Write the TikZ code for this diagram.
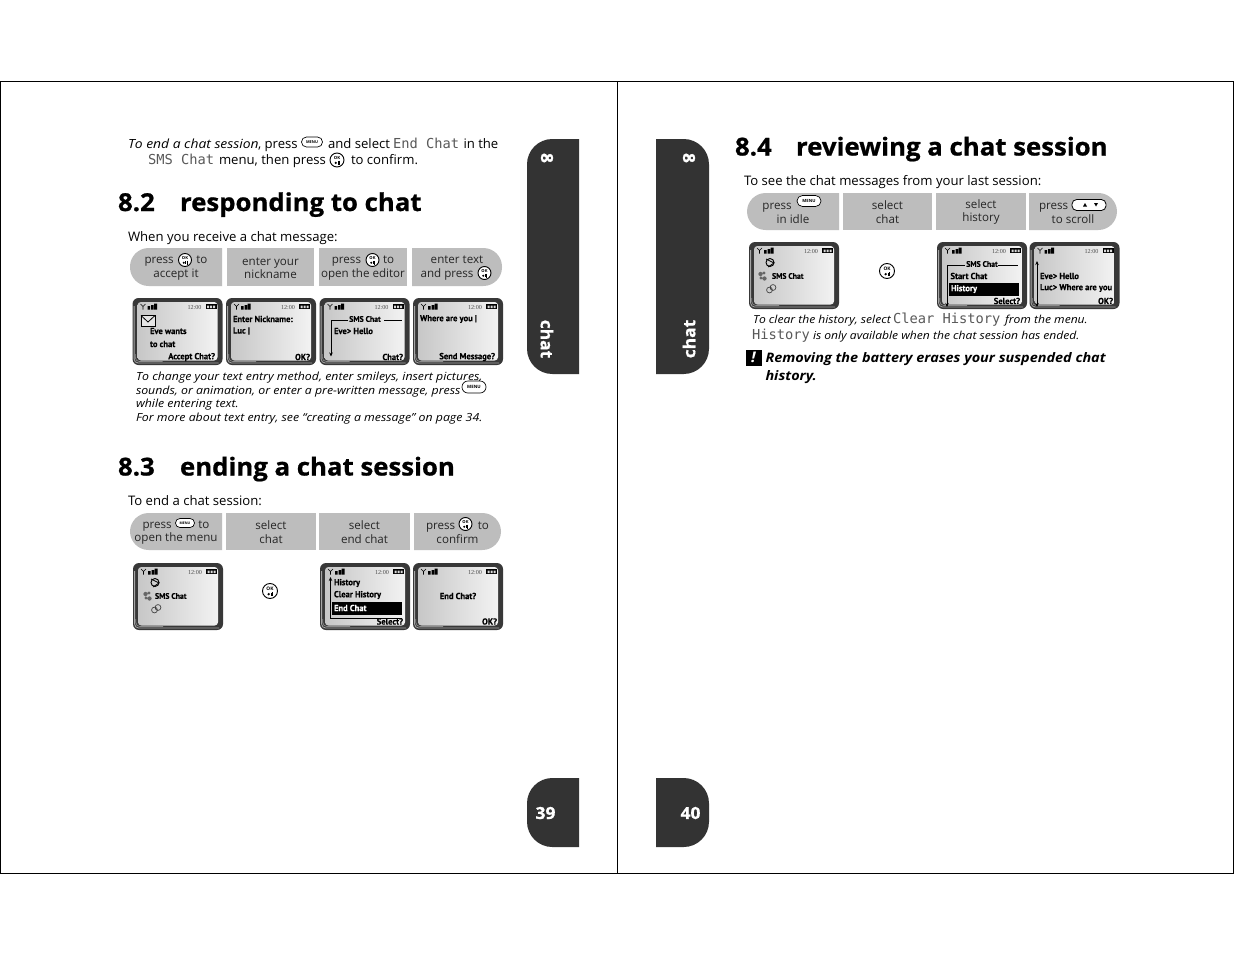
\documentclass[tikz,border=0pt]{standalone}
\usepackage{fontspec}
\setmainfont{Open Sans}[ItalicFeatures={FakeStretch=1.1},BoldItalicFeatures={FakeStretch=1.1}]
\newfontfamily\hdf{Open Sans}[BoldFeatures={FakeBold=0.8,FakeStretch=1.045}]
\newfontfamily\lcdf{PT Sans}[BoldFeatures={FakeStretch=0.97,FakeBold=0.3}]
\newfontfamily\monof{DejaVu Sans Mono}
\newfontfamily\serf{Liberation Serif}
\usetikzlibrary{arrows.meta}
\definecolor{pill}{HTML}{BDBDBD}
\definecolor{tab}{HTML}{333333}
\newcounter{tn}
\tikzset{
  txt/.style={anchor=base west,inner sep=0pt,outer sep=0pt,text=black,font=\fontsize{9.85}{10}\selectfont},
  ital/.style={txt,font=\fontsize{8.4}{10}\selectfont\itshape},
  itc/.style={txt,font=\fontsize{8.25}{10}\selectfont\itshape},
  mono/.style={txt,text=black!65,font=\fontsize{10.3}{10}\monof},
  head/.style={txt,font=\fontsize{18.5}{20}\hdf\bfseries},
  warn/.style={txt,font=\fontsize{9.85}{10}\selectfont\bfseries\itshape},
  lcd/.style={anchor=west,inner sep=0pt,outer sep=0pt,text=black,font=\fontsize{6.6}{7}\lcdf\bfseries},
  lcdn/.style={lcd,font=\fontsize{6}{7}\lcdf\bfseries},
  tabt/.style={inner sep=0pt,outer sep=0pt,text=white,font=\fontsize{12.5}{13}\hdf\bfseries},
  seg/.style={inner sep=0pt,outer sep=0pt,align=center,text=black!85,font=\fontsize{8.7}{10.1}\selectfont},
  segf/.style={seg,fill=pill},
  ico/.style={inner sep=0pt,outer sep=0pt,text=black,align=center},
  arr/.style={line width=.6pt,-{Stealth[length=3pt,width=2.6pt]}},
  arb/.style={line width=.6pt,{Stealth[length=3pt,width=2.6pt]}-{Stealth[length=3pt,width=2.6pt]}},
}
% auto-named text node
\newcommand\tx[3][txt]{\stepcounter{tn}\node[#1] (t\thetn) at (#2) {#3};}
% pill segments: x0, x1, y0, y1, text
\newcommand\seg[5]{\stepcounter{tn}\pgfmathsetmacro\sw{(#2-#1)*0.75}\pgfmathsetmacro\sh{(#4-#3)*0.75}%
  \node[segf,minimum width=\sw pt,minimum height=\sh pt] (s\thetn) at ({(#1+#2)/2},{(#3+#4)/2}) {\rule{0pt}{7.5pt}#5};}
\newcommand\segL[5]{\stepcounter{tn}%
  \fill[pill] (#2,#3) [rounded corners=14pt] -- (#1,#3) -- (#1,#4) [sharp corners] -- (#2,#4) -- cycle;
  \node[seg] (s\thetn) at ({(#1+#2)/2},{(#3+#4)/2}) {\rule{0pt}{7.5pt}#5};}
\newcommand\segR[5]{\stepcounter{tn}%
  \fill[pill] (#1,#3) [rounded corners=14pt] -- (#2,#3) -- (#2,#4) [sharp corners] -- (#1,#4) -- cycle;
  \node[seg] (s\thetn) at ({(#1+#2)/2},{(#3+#4)/2}) {\rule{0pt}{7.5pt}#5};}
% OK button: x,y,radius(px),font size(pt)
\newcommand\okb[4]{\stepcounter{tn}%
  \draw[line width=.7pt,fill=white] (#1,#2) circle[radius=#3*0.75pt];
  \node[ico,font=\fontsize{#4}{#4}\selectfont\bfseries] (k\thetn) at (#1,#2-#3*0.36) {OK};
  \fill (#1-#3*0.18,#2+#3*0.42) circle[radius=#3*0.13pt];
  \draw[line width=.3pt] (#1+#3*0.1,#2+#3*0.2) -- (#1+#3*0.1,#2+#3*0.66);
  \draw[line width=.3pt] (#1+#3*0.3,#2+#3*0.1) -- (#1+#3*0.3,#2+#3*0.72);}
% MENU button: x,y,rx,ry,font
\newcommand\menub[5]{\stepcounter{tn}%
  \draw[line width=.5pt,fill=white,rounded corners=#4*0.74pt] (#1-#3,#2-#4) rectangle (#1+#3,#2+#4);
  \node[ico,font=\fontsize{#5}{#5}\selectfont\bfseries] (k\thetn) at (#1,#2) {MENU};}
% phone base
\newcommand\phone[2]{\begin{scope}[shift={(#1,#2)}]
  \fill[black!78,rounded corners=4.5pt] (0,0) rectangle (90,67);
  \draw[black!35,line width=.6pt,rounded corners=3pt] (1.6,8) -- (1.6,65) -- (86,65);
  \draw[black!45,line width=.5pt,rounded corners=3pt] (2.8,56) -- (2.8,63.5) -- (30,63.5);
  \shade[left color=black!22,right color=black!5,rounded corners=2.5pt] (5,4) rectangle (85,62.5);
  \draw[black,line width=.4pt] (8,6) -- (10.5,8.5) -- (13,6) (10.5,8.5) -- (10.5,11.5);
  \fill (15,8) rectangle (17.5,11.5) (18.5,7) rectangle (21,11.5) (21.5,5.5) rectangle (24.5,11.5);
  \stepcounter{tn}\node[ico,text=black!70,font=\fontsize{4.6}{5}\serf] (c\thetn) at (62,9) {12:00};
  \fill (73,6.3) rectangle (84,11);
  \fill[black!15] (74.5,7.5) rectangle (76.5,10) (77.5,7.5) rectangle (79.5,10) (80.5,7.5) rectangle (82.5,10);
\end{scope}}
% SMS menu icons
\newcommand\smsicons[1]{\begin{scope}[shift={(#1)}]
  \draw[black,line width=.7pt] (7,-13.5) circle[radius=3pt];
  \draw[black,line width=.6pt] (3,-17) -- (11,-13) -- (5,-9);
  \fill[black!60] (-2.5,-2) circle[radius=1.6pt] (1,-3) circle[radius=1.2pt] (-2,2) circle[radius=1.2pt] (1.5,2.5) circle[radius=1.6pt];
  \draw[black!75,line width=.5pt] (6.5,14) circle[radius=2.2pt] (10,11.5) circle[radius=2.2pt];
\end{scope}}
\begin{document}
\begin{tikzpicture}[x=0.75pt,y=-0.75pt]
\useasboundingbox (0,0) rectangle (1235,954);
\fill[white] (0,0) rectangle (1235,954);
% page frames
\draw[black,line width=.75pt] (0.5,81) rectangle (1233.5,873.5);
\draw[black,line width=.75pt] (617.5,81) -- (617.5,873.5);
% tabs
\fill[tab] (579,139) [rounded corners=19pt] -- (527,139) -- (527,374) [sharp corners] -- (579,374) -- cycle;
\fill[tab] (656,139) [rounded corners=19pt] -- (709,139) -- (709,374) [sharp corners] -- (656,374) -- cycle;
\fill[tab] (579,778) [rounded corners=19pt] -- (527,778) -- (527,847) [sharp corners] -- (579,847) -- cycle;
\fill[tab] (656,778) [rounded corners=19pt] -- (709,778) -- (709,847) [sharp corners] -- (656,847) -- cycle;
\tx[tabt,rotate=-90]{547,158}{8}
\tx[tabt,rotate=-90]{547,339}{chat}
\tx[tabt,rotate=-90]{689,158}{8}
\tx[tabt,rotate=90]{689,339}{chat}
\tx[tabt]{545.5,813}{39}
\tx[tabt]{690.5,813}{40}

% === left page top paragraph
\tx[txt]{128,148}{\fontsize{9.45}{10}\selectfont\itshape To end a chat session}
\tx[txt]{258,148}{, press}
\menub{312}{142}{10.5}{5}{2.9}
\tx[txt]{328,148}{and select}
\tx[mono]{393,148}{End Chat}
\tx[txt]{463.5,148}{in the}
\tx[mono]{148,164.5}{SMS Chat}
\tx[txt]{219,164.5}{menu, then press}
\okb{337}{160}{7}{3.2}
\tx[txt]{351,164.5}{to confirm.}

% === 8.2
\tx[head]{118,211}{8.2}
\tx[head]{180,211}{responding to chat}
\tx[txt]{128,241}{When you receive a chat message:}
\segL{130}{222}{248}{286}{press\hspace{17pt}to\\accept it}
\seg{227}{314}{248}{286}{enter your\\nickname}
\seg{319}{407}{248}{286}{press\hspace{16.5pt}to\\open the editor}
\segR{412}{502}{248}{286}{enter text\\and press\hspace{15pt}\mbox{}}
\okb{185}{260}{6.5}{3.1}
\okb{372.5}{260}{6.5}{3.1}
\okb{484.5}{273}{6.5}{3.1}

\phone{132.5}{298}
\phone{226}{298}
\phone{319.5}{298}
\phone{413}{298}
\draw[black,line width=.6pt,fill=white!90!black] (141,315.5) rectangle (155,326);
\draw[black,line width=.6pt] (141,315.5) -- (148,322) -- (155,315.5);
\tx[lcd]{150,331}{Eve wants}
\tx[lcd]{150,344}{to chat}
\tx[lcd,anchor=east]{215,357}{Accept Chat?}
\tx[lcd]{233,319}{Enter Nickname:}
\tx[lcd]{233,331}{Luc |}
\tx[lcd,anchor=east]{310,357}{OK?}
\tx[lcdn,anchor=center]{365,319}{SMS Chat}
\draw[arr] (348,320) -- (331,320) -- (331,356.5);
\draw[line width=.6pt] (384,320) -- (402,320);
\tx[lcd]{334,331}{Eve> Hello}
\tx[lcd,anchor=east]{403,357}{Chat?}
\tx[lcd]{420,319}{Where are you |}
\tx[lcd,anchor=east]{495,357}{Send Message?}

\tx[ital]{136,380}{To change your text entry method, enter smileys, insert pictures,}
\tx[ital]{136,394}{sounds, or animation, or enter a pre-written message, press}
\menub{474}{387}{12}{6}{3.3}
\tx[ital]{136,407}{while entering text.}
\tx[ital]{136,421}{For more about text entry, see “creating a message” on page 34.}

% === 8.3
\tx[head]{118,475.5}{8.3}
\tx[head]{180,475.5}{ending a chat session}
\tx[txt]{128,505}{To end a chat session:}
\segL{130}{222}{513}{550}{press\hspace{20pt}to\\open the menu}
\seg{226}{316}{513}{550}{select\\chat}
\seg{319}{410}{513}{550}{select\\end chat}
\segR{414}{501}{513}{550}{press\hspace{17pt}to\\confirm}
\menub{185}{523}{9.5}{4.5}{2.6}
\okb{465.5}{524}{6.5}{3.1}

\phone{133}{563}
\okb{270}{591}{7.5}{3.6}
\phone{320}{563}
\phone{413}{563}
\smsicons{148,596}
\tx[lcdn]{155,596}{SMS Chat}
\tx[lcd]{334,583}{History}
\tx[lcd]{334,595}{Clear History}
\fill[black] (332,602) rectangle (402,615);
\tx[lcd,text=white]{334,608}{End Chat}
\draw[arr] (402,618) -- (330.5,618) -- (330.5,577);
\tx[lcd,anchor=east]{403,621.5}{Select?}
\tx[lcd,anchor=center]{458,596}{End Chat?}
\tx[lcd,anchor=east]{497,621.5}{OK?}

% === 8.4
\tx[head]{735,155.5}{8.4}
\tx[head]{796,155.5}{reviewing a chat session}
\tx[txt]{744,185}{To see the chat messages from your last session:}
\segL{747}{839}{193}{230}{press\hspace{24pt}\mbox{}\\in idle}
\seg{843}{932}{193}{230}{select\\chat}
\seg{936}{1026}{193}{230}{select\\history}
\segR{1029}{1117}{193}{230}{press\hspace{29pt}\mbox{}\\to scroll}
\menub{809}{201}{12}{5.5}{3.2}
\draw[line width=.6pt,fill=white,rounded corners=3.5pt] (1072,199.5) rectangle (1106,210.5);
\fill (1083,206.5) -- (1085,203) -- (1087,206.5) -- cycle;
\fill (1094,203) -- (1098,203) -- (1096,206.5) -- cycle;

\phone{749}{242}
\okb{887}{271}{7.5}{3.6}
\phone{937}{242}
\phone{1029.5}{242}
\smsicons{763,276}
\tx[lcdn]{772,276}{SMS Chat}
\tx[lcdn,anchor=center]{982,264}{SMS Chat}
\draw[arr] (965,265) -- (947,265) -- (947,307);
\draw[line width=.6pt] (998,265) -- (1018,265);
\tx[lcd]{950.5,276}{Start Chat}
\fill[black] (949,283) rectangle (1019,296);
\tx[lcd,text=white]{951,289}{History}
\tx[lcd,anchor=east]{1020,301}{Select?}
\draw[arb] (1037,261) -- (1037,307);
\tx[lcd]{1040,276}{Eve> Hello}
\tx[lcd]{1040,288}{Luc> Where are you}
\tx[lcd,anchor=east]{1113,301}{OK?}

\tx[itc]{753,323.5}{To clear the history, select}
\tx[mono]{893,323.5}{Clear History}
\tx[itc]{1005,323.5}{from the menu.}
\tx[mono]{752,339}{History}
\tx[itc]{813,339}{is only available when the chat session has ended.}
\fill[black] (746,350) rectangle (762,365.5);
\tx[txt,text=white,font=\fontsize{11}{12}\selectfont\bfseries\itshape]{751,362.5}{!}
\tx[warn]{765.5,362}{Removing the battery erases your suspended chat}
\tx[warn]{765.5,380}{history.}
\end{tikzpicture}
\end{document}
